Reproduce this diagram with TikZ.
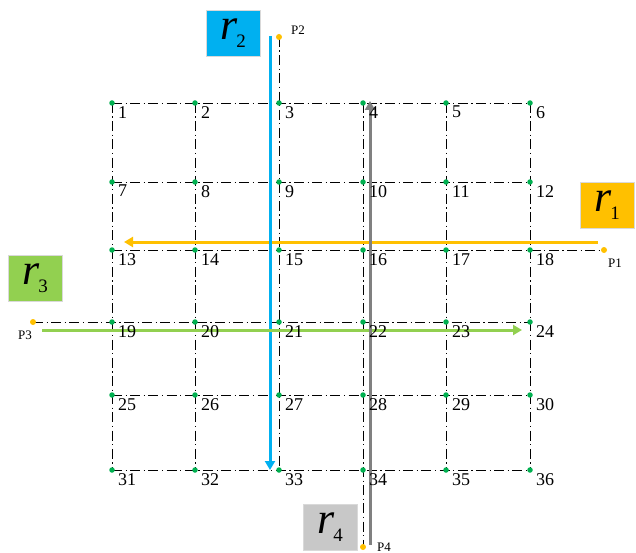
\documentclass[tikz,border=0pt]{standalone}
\usepackage{fontspec}
\setmainfont{Liberation Serif}
\usetikzlibrary{arrows.meta,calc}
\definecolor{gdot}{HTML}{00B050}
\definecolor{pdot}{HTML}{FFC000}
\definecolor{rblue}{HTML}{00B0F0}
\definecolor{rorange}{HTML}{FFC000}
\definecolor{rgreen}{HTML}{92D050}
\definecolor{rgray}{HTML}{C8C8C8}
\definecolor{agray}{HTML}{808080}
\newcommand{\rlab}[1]{{\itshape r}\kern-1pt\raisebox{-0.4ex}{\fontsize{19}{19}\selectfont #1}}
\tikzset{
  gridline/.style={black, line width=0.7pt, dash pattern=on 10pt off 3.5pt on 1.2pt off 3.5pt},
  gdotstyle/.style={circle, fill=gdot, inner sep=0pt, minimum size=5.5pt},
  pdotstyle/.style={circle, fill=pdot, inner sep=0pt, minimum size=6pt},
  num/.style={font=\fontsize{18}{18}\selectfont, inner sep=0pt},
  plab/.style={font=\fontsize{13}{13}\selectfont, inner sep=0pt},
  rbox/.style={minimum width=54pt, minimum height=46pt, inner sep=0pt, font=\fontsize{44}{44}\selectfont},
  route/.style={line width=3pt, -{Triangle[length=9pt,width=10pt]}}
}
\begin{document}
\begin{tikzpicture}[x=1pt,y=-1pt]
\useasboundingbox (0,0) rectangle (636,553);
% grid coordinates
\foreach \c/\x in {1/112,2/195,3/279,4/363,5/446,6/530}{
  \foreach \r/\y in {1/103,2/182,3/250,4/322,5/395,6/470}{
    \coordinate (g\r\c) at (\x,\y);
  }
}
\coordinate (P1) at (604,250);
\coordinate (P2) at (279,37);
\coordinate (P3) at (33,322);
\coordinate (P4) at (363,547);
% grid lines
\foreach \r in {1,2,5,6}{ \draw[gridline] (g\r1) -- (g\r6); }
\draw[gridline] (g31) -- (P1);
\draw[gridline] (P3) -- (g46);
\foreach \c in {1,2,5,6}{ \draw[gridline] (g1\c) -- (g6\c); }
\draw[gridline] (P2) -- (g63);
\draw[gridline] (g14) -- (P4);
% routes
\coordinate (r1s) at (598,242); \coordinate (r1e) at (124,242);
\coordinate (r2s) at (270,36);  \coordinate (r2e) at (270,470);
\coordinate (r3s) at (42,330);  \coordinate (r3e) at (522,330);
\coordinate (r4s) at (370,545); \coordinate (r4e) at (370,101);
\draw[route, rorange] (r1s) -- (r1e);
\draw[route, rblue] (r2s) -- (r2e);
\draw[route, rgreen] (r3s) -- (r3e);
\draw[route, agray] (r4s) -- (r4e);
% dots and numbers
\foreach \r in {1,...,6}{
  \foreach \c in {1,...,6}{
    \pgfmathtruncatemacro{\n}{(\r-1)*6+\c}
    \node[gdotstyle] (d\n) at (g\r\c) {};
    \node[num, anchor=north west] (n\n) at ($(g\r\c)+(6,3)$) {\n};
  }
}
\node[pdotstyle] (p1) at (P1) {};
\node[pdotstyle] (p2) at (P2) {};
\node[pdotstyle] (p3) at (P3) {};
\node[pdotstyle] (p4) at (P4) {};
\node[plab, anchor=north] (lp1) at (615,259) {P1};
\node[plab, anchor=west] (lp2) at (291,30) {P2};
\node[plab, anchor=north] (lp3) at (25,331) {P3};
\node[plab, anchor=west] (lp4) at (377,547) {P4};
% route label boxes
\node[rbox, fill=rblue, draw=black!15] (b2) at (233,33) {\rlab{2}};
\node[rbox, fill=rorange, draw=black!15] (b1) at (607,205) {\rlab{1}};
\node[rbox, fill=rgreen, draw=black!15] (b3) at (35,278) {\rlab{3}};
\node[rbox, fill=rgray, draw=black!15] (b4) at (330,527) {\rlab{4}};
\end{tikzpicture}
\end{document}
